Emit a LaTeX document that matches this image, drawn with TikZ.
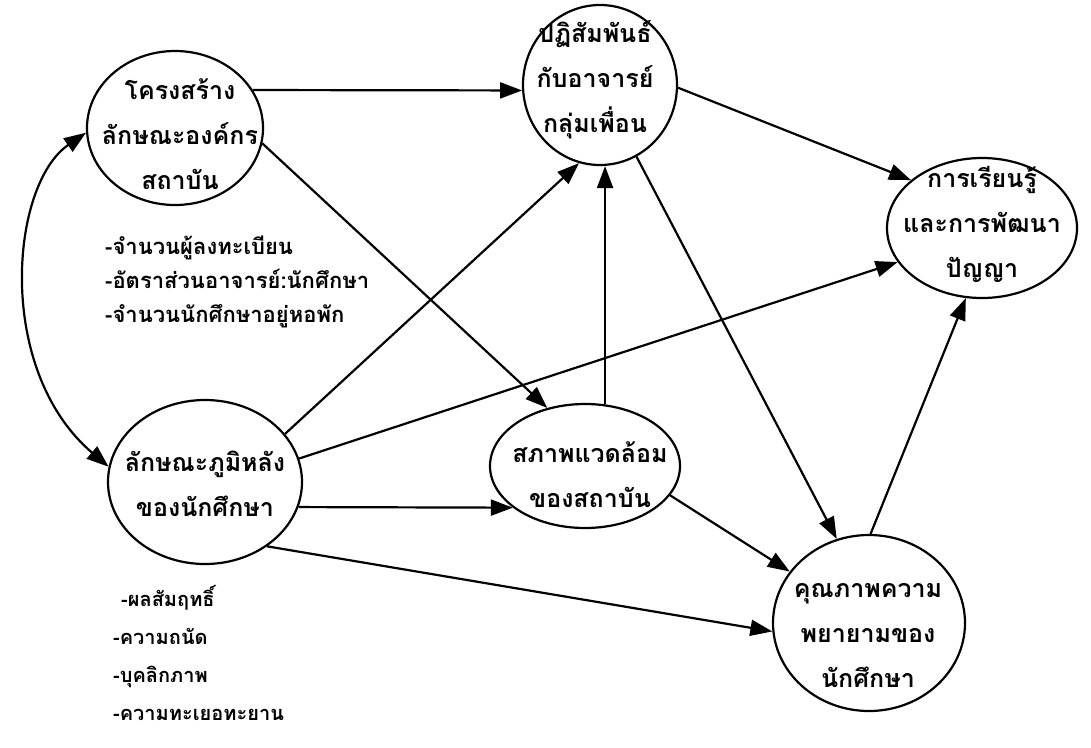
\documentclass[tikz,border=0pt]{standalone}
\usepackage{fontspec}
\newfontfamily\thaifont[Script=Thai]{Loma}
\usetikzlibrary{shapes.geometric,arrows.meta}

\begin{document}
\begin{tikzpicture}[x=1pt,y=-1pt,
    bubble/.style={ellipse, draw, line width=2.2pt, inner sep=0pt},
    txt/.style={font=\thaifont\bfseries\fontsize{25}{45}\selectfont, align=center, inner sep=0pt},
    notes/.style={font=\thaifont\bfseries\fontsize{21}{36}\selectfont, align=left, inner sep=0pt, anchor=north west},
    arr/.style={line width=2.2pt, -{Triangle[length=22pt,width=16pt]}},
    dblarr/.style={line width=2.2pt, {Triangle[length=22pt,width=16pt]}-{Triangle[length=22pt,width=16pt]}}]
    \useasboundingbox (0,0) rectangle (1091,747);

    % Draw the six ellipses
    \node[bubble, minimum width=176pt, minimum height=154pt] (struct) at (175,128) {};
    \node[bubble, minimum width=154pt, minimum height=160pt] (interact) at (600,85) {};
    \node[bubble, minimum width=190pt, minimum height=140pt] (learn) at (982,228) {};
    \node[bubble, minimum width=194pt, minimum height=164pt] (backgr) at (205,482) {};
    \node[bubble, minimum width=190pt, minimum height=124pt] (environ) at (585,466) {};
    \node[bubble, minimum width=192pt, minimum height=176pt] (effort) at (869,623) {};

    % Texts inside
    \node[txt] (structtxt) at (180,134) {โครงสร้าง\\ลักษณะองค์กร\\สถาบัน};
    \node[txt] (interacttxt) at (595,80) {ปฏิสัมพันธ์\\กับอาจารย์\\กลุ่มเพื่อน};
    \node[txt] (learntxt) at (982,224) {การเรียนรู้\\และการพัฒนา\\ปัญญา};
    \node[txt] (backgrtxt) at (205,484) {ลักษณะภูมิหลัง\\ของนักศึกษา};
    \node[txt] (environtxt) at (590,475) {สภาพแวดล้อม\\ของสถาบัน};
    \node[txt] (efforttxt) at (868,636) {คุณภาพความ\\พยายามของ\\นักศึกษา};

    % Lists of variables
    \node[notes, font=\thaifont\bfseries\fontsize{22}{34}\selectfont] (structlist) at (105,236) {-จำนวนผู้ลงทะเบียน\\-อัตราส่วนอาจารย์:นักศึกษา\\-จำนวนนักศึกษาอยู่หอพัก};
    \node[notes, font=\thaifont\bfseries\fontsize{20}{38}\selectfont] (backgrlist) at (113,585) {\hspace{8pt}-ผลสัมฤทธิ์\\-ความถนัด\\-บุคลิกภาพ\\-ความทะเยอทะยาน};

    % Draw arrows
    \draw[dblarr] (struct.183) .. controls (10,185) and (-5,370) .. (backgr.171);
    \draw[arr] (struct.26) -- (interact.184);
    \draw[arr] (struct.350) -- (environ.123);
    \draw[arr] (interact.358) -- (learn.146);
    \draw[arr] (interact.297) -- (effort.111);
    \draw[arr] (environ.72) -- (environ.72 |- interact.south);
    \draw[arr] (backgr.31) -- (interact.255);
    \draw[arr] (backgr.14) -- (learn.202);
    \draw[arr] (backgr.345) -- (environ.210);
    \draw[arr] (backgr.314) -- (effort.185);
    \draw[arr] (environ.341) -- (effort.147);
    \draw[arr] (effort.89) -- (learn.257);
\end{tikzpicture}
\end{document}
